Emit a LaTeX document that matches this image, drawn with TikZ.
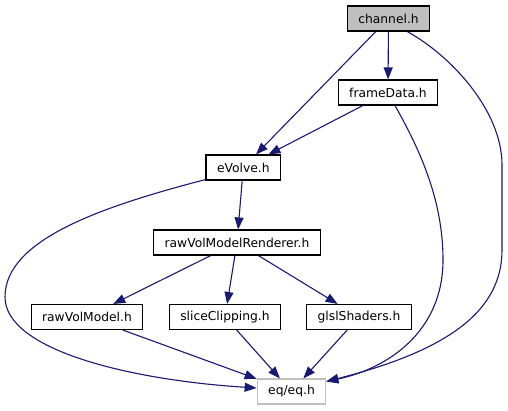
\documentclass[tikz,border=0pt]{standalone}
\usepackage{fontspec}
\setmainfont{DejaVu Sans}
\usetikzlibrary{arrows.meta}
\definecolor{edgeblue}{RGB}{25,25,112}
\definecolor{boxgray}{RGB}{191,191,191}

\begin{document}
\begin{tikzpicture}[x=1pt, y=-1pt, >={Triangle[length=12pt,width=9pt]},
  file/.style={draw=black, line width=1.1pt, fill=white, minimum height=25pt,
    inner xsep=11pt, inner ysep=0pt, font=\fontsize{12.3}{14}\selectfont},
  dep/.style={->, color=edgeblue, line width=1.1pt}]

\useasboundingbox (0,0) rectangle (508,411);

% --- Files ---
\node[file, fill=boxgray] (channel) at (388.5,18.5) {channel.h};
\node[file] (frameData) at (388,92.5) {frameData.h};
\node[file] (eVolve) at (243.3,167.5) {eVolve.h};
\node[file] (renderer) at (237,242.5) {rawVolModelRenderer.h};
\node[file] (rawVolModel) at (87,317) {rawVolModel.h};
\node[file] (sliceClipping) at (225,317) {sliceClipping.h};
\node[file] (glslShaders) at (359,317) {glslShaders.h};
\node[file, draw=boxgray] (eq) at (291.5,391.5) {eq/eq.h};

% --- Includes of channel.h ---
\draw[dep] (channel) -- (frameData);
\draw[dep] (channel) -- (eVolve);
\draw[dep] ([xshift=-23pt]channel.south east) .. controls (450,55) and (502,110) .. (502,165)
  -- (502,250) .. controls (502,310) and (450,350) .. ([yshift=-3pt]eq.north east);

% --- Includes of frameData.h ---
\draw[dep] (frameData) -- (eVolve);
\draw[dep] ([xshift=7pt]frameData.south) .. controls (420,150) and (443,200) .. (443,260)
  .. controls (443,330) and (390,368) .. ([yshift=-3pt]eq.north east);

% --- Includes of eVolve.h ---
\draw[dep] (eVolve) -- (renderer);
\draw[dep] ([yshift=1pt]eVolve.south west) .. controls (100,207) and (5,240) .. (5,297)
  .. controls (5,350) and (130,380) .. ([yshift=3.5pt]eq.west);

% --- Includes of rawVolModelRenderer.h ---
\draw[dep] (renderer) -- (rawVolModel);
\draw[dep] (renderer) -- (sliceClipping);
\draw[dep] (renderer) -- (glslShaders);

% --- Into eq/eq.h ---
\draw[dep] (rawVolModel) -- (eq);
\draw[dep] (sliceClipping) -- (eq);
\draw[dep] (glslShaders) -- (eq);

\end{tikzpicture}
\end{document}
